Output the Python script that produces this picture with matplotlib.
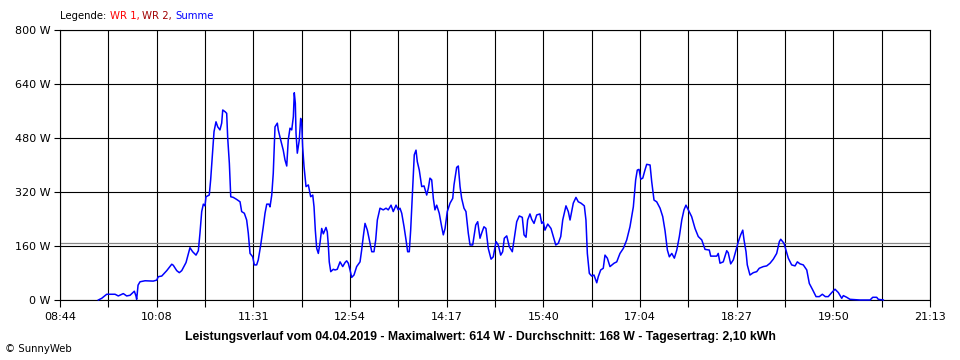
import matplotlib
matplotlib.use("Agg")
import matplotlib.pyplot as plt
import numpy as np

# Leistungsverlauf 04.04.2019 (SunnyWeb), Summe in W
# time = minutes since midnight
minutes = [
    557.0, 559.9, 564.2, 571.4, 574.2, 578.5, 581.4, 584.3, 588.0, 589.4,
    590.0, 591.2, 592.9, 597.2, 604.3, 607.3, 608.6, 611.6, 615.9, 620.2,
    621.5, 624.5, 626.7, 628.8, 632.5, 635.9, 638.2, 641.1, 643.1, 644.5,
    646.0, 647.4, 648.8, 649.7, 652.5, 653.7, 655.5, 656.6, 658.3, 659.8,
    661.7, 663.2, 664.1, 666.1, 667.5, 668.4, 669.8, 671.0, 673.2, 676.1,
    679.0, 680.4, 682.7, 684.7, 686.1, 687.6, 689.9, 691.3, 693.3, 694.7,
    696.8, 699.0, 700.5, 702.0, 703.9, 704.8, 706.3, 707.6, 709.1, 711.1,
    711.9, 714.0, 716.2, 717.7, 719.2, 720.5, 722.0, 723.5, 724.9, 725.7,
    726.6, 727.2, 728.3, 730.0, 731.2, 732.1, 732.9, 734.1, 735.8, 737.8,
    739.8, 741.6, 742.7, 743.8, 745.0, 746.4, 747.8, 749.3, 750.7, 753.0,
    754.1, 755.0, 755.8, 757.1, 759.3, 760.8, 762.7, 765.1, 767.4, 769.4,
    770.8, 772.2, 773.7, 775.1, 777.1, 779.4, 782.3, 783.7, 785.1, 786.6,
    788.6, 790.3, 792.4, 794.3, 795.8, 797.2, 799.5, 802.3, 804.7, 806.6,
    809.0, 810.9, 813.3, 815.2, 816.7, 818.2, 820.2, 821.9, 823.3, 824.7,
    825.9, 827.7, 829.0, 830.5, 831.6, 833.3, 835.4, 837.4, 839.7, 841.1,
    842.5, 844.0, 845.4, 846.8, 848.3, 850.5, 852.6, 854.0, 855.5, 857.4,
    859.8, 862.1, 863.2, 865.5, 866.9, 868.4, 869.8, 871.8, 873.5, 875.5,
    877.0, 879.3, 881.9, 883.6, 885.6, 887.0, 889.0, 890.7, 892.7, 895.1,
    897.0, 899.4, 901.3, 903.4, 905.1, 906.5, 908.6, 910.8, 913.4, 915.1,
    917.2, 919.4, 922.0, 923.5, 925.2, 926.6, 928.6, 930.1, 932.1, 934.4,
    937.2, 938.7, 940.1, 941.5, 943.9, 946.7, 948.7, 950.8, 953.0, 955.1,
    956.8, 959.6, 961.6, 963.1, 964.5, 965.9, 968.2, 970.2, 972.5, 975.4,
    976.8, 978.0, 979.7, 981.7, 983.7, 986.1, 987.4, 989.5, 991.7, 993.2,
    995.2, 997.5, 1001.0, 1003.3, 1006.1, 1009.0, 1011.9, 1014.7, 1017.6, 1019.6,
    1021.0, 1022.5, 1024.0, 1025.7, 1027.6, 1029.1, 1032.0, 1033.4, 1035.4, 1037.7,
    1040.6, 1042.9, 1044.9, 1046.9, 1048.6, 1050.7, 1052.9, 1055.0, 1057.2, 1059.3,
    1061.2, 1062.9, 1064.9, 1067.8, 1070.7, 1073.5, 1076.5, 1079.3, 1083.0, 1084.2,
    1089.4, 1090.7, 1092.2, 1095.0, 1098.0, 1099.3, 1101.4, 1103.7, 1106.0, 1108.0,
    1110.0, 1111.8, 1112.9, 1114.6, 1115.7, 1118.0, 1120.9, 1123.8, 1126.0, 1129.5,
    1132.4, 1135.3, 1138.1, 1141.0, 1143.3, 1144.5, 1147.3, 1149.0, 1151.0, 1153.9,
    1156.8, 1158.8, 1161.1, 1163.9, 1166.9, 1169.1, 1172.0, 1174.9, 1177.7, 1180.3,
    1182.9, 1185.4, 1188.4, 1191.2, 1194.1, 1197.0, 1198.4, 1201.3, 1204.1, 1212.7,
    1221.4, 1223.7, 1227.1, 1228.5, 1232.8,
]
summe_w = [
    0, 5, 17, 17, 12, 19, 12, 14, 26, 12,
    2, 44, 54, 57, 56, 59, 69, 71, 87, 106,
    103, 87, 81, 87, 111, 155, 143, 133, 146, 198,
    262, 284, 279, 306, 311, 356, 444, 499, 528, 513,
    504, 524, 563, 558, 553, 479, 405, 306, 304, 298,
    291, 262, 257, 237, 198, 138, 128, 104, 104, 119,
    163, 217, 257, 284, 284, 276, 311, 375, 513, 524,
    504, 474, 444, 415, 397, 474, 509, 504, 543, 614,
    583, 494, 435, 474, 538, 524, 454, 395, 336, 341,
    306, 311, 276, 207, 153, 138, 168, 212, 196, 215,
    202, 163, 113, 84, 91, 89, 91, 113, 99, 111,
    116, 109, 89, 67, 74, 99, 113, 148, 188, 227,
    207, 178, 143, 143, 178, 237, 272, 267, 272, 267,
    281, 262, 281, 267, 272, 257, 217, 178, 143, 143,
    207, 336, 430, 444, 410, 385, 336, 338, 311, 331,
    361, 356, 301, 267, 281, 257, 217, 193, 212, 262,
    287, 301, 341, 393, 397, 336, 301, 272, 262, 198,
    163, 163, 222, 232, 183, 198, 217, 212, 153, 121,
    128, 173, 163, 133, 143, 183, 190, 158, 143, 183,
    232, 249, 245, 193, 186, 237, 255, 239, 227, 252,
    255, 227, 232, 207, 225, 212, 188, 163, 168, 188,
    237, 279, 262, 237, 262, 287, 304, 291, 287, 279,
    237, 138, 79, 71, 74, 51, 69, 89, 94, 133,
    124, 99, 109, 113, 138, 153, 178, 217, 276, 356,
    385, 387, 358, 361, 385, 402, 400, 351, 296, 291,
    272, 247, 205, 148, 128, 138, 124, 148, 188, 237,
    267, 281, 267, 247, 212, 188, 178, 150, 148, 130,
    130, 138, 109, 113, 146, 140, 107, 119, 148, 173,
    193, 207, 178, 143, 104, 74, 81, 84, 94, 99,
    101, 109, 121, 138, 173, 180, 168, 148, 124, 104,
    101, 113, 107, 104, 89, 49, 30, 10, 10, 17,
    10, 10, 22, 32, 22, 5, 13, 8, 2, 0,
    0, 8, 8, 2, 0,
]
durchschnitt_w = 168

x_start, x_end = 524, 1273          # 08:44 .. 21:13
x_labels = ["08:44", "10:08", "11:31", "12:54", "14:17",
            "15:40", "17:04", "18:27", "19:50", "21:13"]
y_ticks = [0, 160, 320, 480, 640, 800]
y_labels = ["0 W", "160 W", "320 W", "480 W", "640 W", "800 W"]

fig = plt.figure(figsize=(9.6, 3.6), dpi=100, facecolor="white")
ax = fig.add_axes([60 / 960, 60 / 360, 870 / 960, 270 / 360])
ax.set_facecolor("white")

ax.set_xlim(x_start, x_end)
ax.set_ylim(0, 800)

major = np.linspace(x_start, x_end, len(x_labels))
minor = (major[:-1] + major[1:]) / 2
ax.set_xticks(major)
ax.set_xticklabels(x_labels)
ax.set_xticks(minor, minor=True)
ax.set_yticks(y_ticks)
ax.set_yticklabels(y_labels)

ax.tick_params(axis="x", which="both", direction="out", length=5, width=0.8,
               color="black", labelsize=8, pad=4)
ax.tick_params(axis="y", direction="out", length=4, width=0.8,
               color="black", labelsize=8, pad=3)

ax.grid(True, which="both", axis="x", color="black", linewidth=0.8)
ax.grid(True, which="major", axis="y", color="black", linewidth=0.8)
for s in ax.spines.values():
    s.set_color("black")
    s.set_linewidth(0.8)

# average line
ax.axhline(durchschnitt_w, color="#888888", linewidth=0.9, zorder=2)

ax.plot(minutes, summe_w, color="#0000ff", linewidth=1.1, zorder=3,
        clip_on=False)

# legend line at the top
leg_y = 1 - 16 / 360
t = fig.text(60 / 960, leg_y, "Legende: ", fontsize=7.3, color="black",
             va="center", ha="left")
fig.canvas.draw()
parts = [("WR 1, ", "#ff0000"), ("WR 2, ", "#a00000"), ("Summe", "#0000ff")]
prev = t
for txt, col in parts:
    bb = prev.get_window_extent()
    prev = fig.text(bb.x1 / 960, leg_y, txt, fontsize=7.3, color=col,
                    va="center", ha="left")

fig.text(480 / 960, 1 - 337 / 360,
         "Leistungsverlauf vom 04.04.2019 - Maximalwert: 614 W - "
         "Durchschnitt: 168 W - Tagesertrag: 2,10 kWh",
         fontsize=8.8, fontweight="bold", ha="center", va="center",
         family="Liberation Sans")
fig.text(5 / 960, 1 - 349 / 360, "\u00a9 SunnyWeb", fontsize=7.3,
         ha="left", va="center")

fig.savefig("out.png", dpi=100, facecolor="white")
